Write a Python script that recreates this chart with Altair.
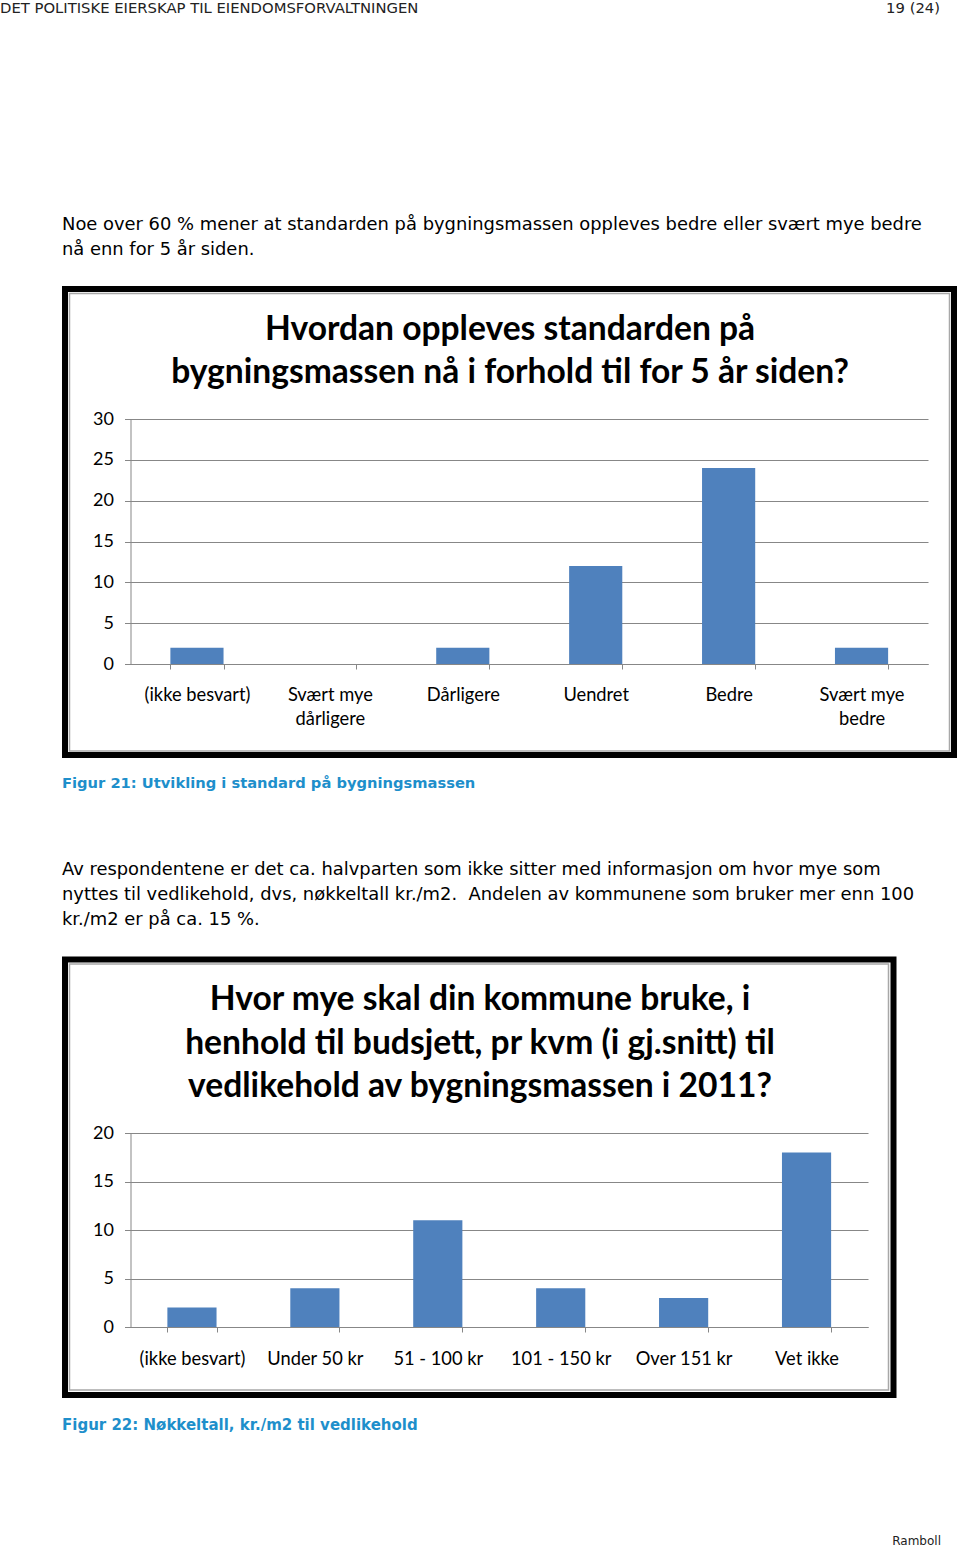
import altair as alt
import pandas as pd

# ---------------- data ----------------
cats1 = ["(ikke besvart)", "Svært mye dårligere", "Dårligere", "Uendret", "Bedre", "Svært mye bedre"]
vals1 = [2, 0, 2, 12, 24, 2]
ticks1 = [0, 5, 10, 15, 20, 25, 30]

cats2 = ["(ikke besvart)", "Under 50 kr", "51 - 100 kr", "101 - 150 kr", "Over 151 kr", "Vet ikke"]
vals2 = [2, 4, 11, 4, 3, 18]
ticks2 = [0, 5, 10, 15, 20]

title1 = ["Hvordan oppleves standarden på", "bygningsmassen nå i forhold til for 5 år siden?"]
title2 = ["Hvor mye skal din kommune bruke, i",
          "henhold til budsjett, pr kvm (i gj.snitt) til",
          "vedlikehold av bygningsmassen i 2011?"]

header_left = "DET POLITISKE EIERSKAP TIL EIENDOMSFORVALTNINGEN"
header_right = "19 (24)"
para1 = ["Noe over 60 % mener at standarden på bygningsmassen oppleves bedre eller svært mye bedre",
         "nå enn for 5 år siden."]
caption1 = "Figur 21: Utvikling i standard på bygningsmassen"
para2 = ["Av respondentene er det ca. halvparten som ikke sitter med informasjon om hvor mye som",
         "nyttes til vedlikehold, dvs, nøkkeltall kr./m2.\u00a0 Andelen av kommunene som bruker mer enn 100",
         "kr./m2 er på ca. 15 %."]
caption2 = "Figur 22: Nøkkeltall, kr./m2 til vedlikehold"
footer = "Ramboll"

# ---------------- style ----------------
W, H = 960, 1548
BAR = "#4F81BD"
GRID = "#878787"
CF = "Lato"
BF = "DejaVu Sans"
CAP = "#1E8FCB"
PS = 17.9   # paragraph font size
TS = 33.6   # chart title font size

one = pd.DataFrame({"k": [0]})


def txt(s, x, y, size, font=BF, weight="normal", color="#000000", align="left"):
    return alt.Chart(one).mark_text(
        text=s, font=font, fontSize=size, fontWeight=weight, color=color,
        align=align, baseline="middle"
    ).encode(x=alt.value(x), y=alt.value(y))


def box(x1, y1, x2, y2, color, sw):
    return alt.Chart(one).mark_rect(fillOpacity=0, stroke=color, strokeWidth=sw).encode(
        x=alt.value(x1), x2=alt.value(x2), y=alt.value(y1), y2=alt.value(y2))


label_expr = ("indexof(datum.label, 'Svært mye ') == 0 ? "
              "['Svært mye', substring(datum.label, 10)] : datum.label")


def bars(cats, vals, ticks, xr, yr, ymax, lpad):
    df = pd.DataFrame({"cat": cats, "val": vals})
    return alt.Chart(df).mark_bar(color=BAR).encode(
        x=alt.X("cat:N", sort=cats,
                scale=alt.Scale(range=xr, paddingInner=0.6, paddingOuter=0.3),
                axis=alt.Axis(orient="bottom", offset=-(H - yr[0]), title=None, labelAngle=0,
                              labelFont=CF, labelFontSize=18.3, labelColor="#000000",
                              labelPadding=lpad, labelLineHeight=24, labelExpr=label_expr,
                              domainColor=GRID, tickColor=GRID, tickSize=5, tickBand="extent",
                              grid=False, labelLimit=300)),
        y=alt.Y("val:Q",
                scale=alt.Scale(domain=[0, ymax], range=yr, nice=False, zero=True),
                axis=alt.Axis(orient="left", offset=-xr[0], title=None, values=ticks,
                              labelFont=CF, labelFontSize=18, labelColor="#000000",
                              labelPadding=11, domainColor=GRID, tickColor=GRID, tickSize=6,
                              grid=True, gridColor=GRID, gridWidth=1)),
    )


layers = [
    # frames
    box(65, 289, 954, 755, "#000000", 6),
    box(69.5, 293.5, 949.5, 751, "#A8A8A8", 1.5),
    box(65, 959.5, 893.5, 1395, "#000000", 6),
    box(69.5, 964, 888.5, 1390, "#A8A8A8", 1.5),
    # charts
    bars(cats1, vals1, ticks1, [130.5, 928], [664, 419], 30, 17),
    bars(cats2, vals2, ticks2, [130.5, 868], [1327, 1133], 20, 18),
    # page text
    txt(header_left, 0, 9, 14.8, color="#222222"),
    txt(header_right, 940, 9, 14.8, color="#222222", align="right"),
    txt(para1[0], 62, 225, PS),
    txt(para1[1], 62, 250, PS),
    txt(caption1, 62, 784, 14.7, weight="bold", color=CAP),
    txt(para2[0], 62, 870, PS),
    txt(para2[1], 62, 895, PS),
    txt(para2[2], 62, 920, PS),
    txt(caption2, 62, 1425, 15, weight="bold", color=CAP),
    txt(footer, 941, 1541, 12, color="#222222", align="right"),
    # chart titles
    txt(title1[0], 510, 330, TS, font=CF, weight="bold", align="center"),
    txt(title1[1], 510, 373, TS, font=CF, weight="bold", align="center"),
    txt(title2[0], 480, 1000, TS, font=CF, weight="bold", align="center"),
    txt(title2[1], 480, 1044, TS, font=CF, weight="bold", align="center"),
    txt(title2[2], 480, 1087, TS, font=CF, weight="bold", align="center"),
]

chart = alt.layer(*layers).resolve_scale(x="independent", y="independent").properties(
    width=W, height=H, padding=0, autosize=alt.AutoSizeParams(type="none"),
    background="white"
).configure_view(stroke="transparent")

chart.save("out.html", embed_options={"renderer": "svg", "actions": False})
